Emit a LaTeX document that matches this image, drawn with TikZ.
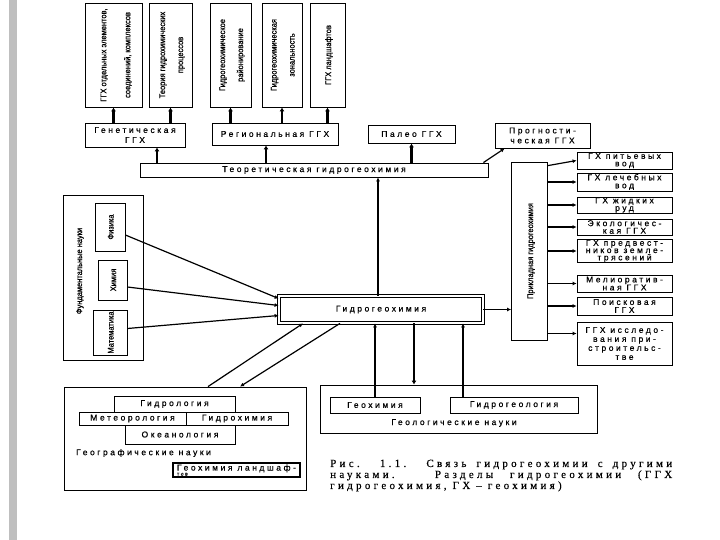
\documentclass[tikz,border=0pt]{standalone}
\usepackage{fontspec}
\setmainfont{Liberation Serif}
\newfontfamily\spfont{Liberation Sans}[LetterSpace=30, FakeBold=0.5]
\newfontfamily\nrfont{Liberation Sans}[FakeStretch=0.9, FakeBold=0.5]
\newfontfamily\capfont{Liberation Serif}[LetterSpace=30, FakeBold=0.3]
\usepackage{graphicx}
\usetikzlibrary{arrows.meta}
\newcommand{\vtxt}[1]{\rotatebox{90}{\begin{tabular}{@{}c@{}}#1\end{tabular}}}

\begin{document}
\begin{tikzpicture}[x=1pt, y=-1pt,
  wh/.style 2 args = {minimum width=#1, minimum height=#2},
  box/.style = {draw, line width=0.8pt, inner sep=0pt, align=center, font=\spfont\fontsize{8.5}{8}\selectfont},
  vbox/.style = {draw, line width=0.8pt, inner sep=0pt, font=\nrfont\fontsize{8.3}{18}\selectfont},
  lbl/.style = {inner sep=0pt, font=\spfont\fontsize{8.5}{8}\selectfont},
  arr/.style = {line width=1.2pt, -{Latex[length=4pt,width=4pt]}},
  fat/.style = {line width=2.2pt, -{Latex[length=4pt,width=5pt]}}]
  \fill[white] (0,0) rectangle (720,540);
  \useasboundingbox (0,0) rectangle (720,540);
  \fill[gray!50] (9,0) rectangle (17,540);

  % theoretical branches
  \node[vbox, wh={57pt}{104pt}, font=\nrfont\fontsize{8.3}{24}\selectfont] (a) at (113.5,55) {\vtxt{ГГХ отдельных элементов,\\соединений, комплексов}};
  \node[vbox, wh={43pt}{104pt}] (b) at (170.5,55) {\vtxt{Теория гидрохимических\\процессов}};
  \node[vbox, wh={41pt}{104pt}] (c) at (230.5,55) {\vtxt{Гидрогеохимическое\\районирование}};
  \node[vbox, wh={40pt}{104pt}] (d) at (282,55) {\vtxt{Гидрогеохимическая\\зональность}};
  \node[vbox, wh={35pt}{104pt}] (e) at (327.5,55) {\vtxt{ГГХ ландшафтов}};

  \node[box, wh={100pt}{24pt}, font=\spfont\fontsize{8.5}{10}\selectfont] (gen) at (135,135) {Генетическая\\ГГХ};
  \node[box, wh={126pt}{22pt}] (reg) at (275,134) {Региональная ГГХ};
  \node[box, wh={87pt}{18pt}] (paleo) at (411.5,134) {Палео ГГХ};
  \node[box, wh={95pt}{25pt}, font=\spfont\fontsize{8.5}{10}\selectfont] (prog) at (542.5,135.5) {Прогности-\\ческая ГГХ};
  \node[box, wh={348pt}{14pt}] (theo) at (314,170) {Теоретическая гидрогеохимия};

  % fundamental sciences
  \node[draw, line width=0.8pt, wh={80pt}{165pt}] (fund) at (103,277.5) {};
  \node[vbox, wh={30pt}{48pt}] (phys) at (110,227) {\vtxt{Физика}};
  \node[vbox, wh={29pt}{40pt}] (chem) at (112.5,280) {\vtxt{Химия}};
  \node[vbox, wh={34pt}{45pt}] (math) at (110,332.5) {\vtxt{Математика}};
  \node[inner sep=0pt, font=\nrfont\fontsize{8.3}{9}\selectfont] (fundlbl) at (80,271) {\rotatebox{90}{Фундаментальные науки}};

  % centre
  \node[box, wh={204pt}{27pt}, double, double distance=2pt] (hyd) at (381,309.5) {Гидрогеохимия};

  % applied branches
  \node[vbox, wh={36pt}{178pt}] (app) at (529.5,251) {\vtxt{Прикладная гидрогеохимия}};
  \node[box, wh={95pt}{17pt}, font=\spfont\fontsize{8.5}{7.5}\selectfont] (r1) at (624.5,160.5) {ГХ питьевых\\вод};
  \node[box, wh={95pt}{18pt}] (r2) at (624.5,182) {ГХ лечебных\\вод};
  \node[box, wh={95pt}{16pt}, font=\spfont\fontsize{8.5}{7.5}\selectfont] (r3) at (624.5,205) {ГХ жидких\\руд};
  \node[box, wh={95pt}{16pt}, font=\spfont\fontsize{8.5}{7.5}\selectfont] (r4) at (624.5,227) {Экологичес-\\кая ГГХ};
  \node[box, wh={95pt}{22pt}, font=\spfont\fontsize{8.5}{7.3}\selectfont] (r5) at (624.5,251) {ГХ предвест-\\ников земле-\\трясений};
  \node[box, wh={95pt}{17pt}] (r6) at (624.5,283.5) {Мелиоратив-\\ная ГГХ};
  \node[box, wh={95pt}{18pt}] (r7) at (624.5,306) {Поисковая\\ГГХ};
  \node[box, wh={95pt}{43pt}, font=\spfont\fontsize{8.5}{9}\selectfont] (r8) at (624.5,343.5) {ГГХ исследо-\\вания при-\\строительс-\\тве};

  % geographical sciences
  \node[draw, line width=0.8pt, wh={242pt}{103pt}] (geog) at (185,438.5) {};
  \node[box, wh={121pt}{16pt}] (hydrol) at (174.5,404) {Гидрология};
  \node[box, wh={107pt}{13pt}] (meteo) at (132.5,418.5) {Метеорология};
  \node[box, wh={102pt}{13pt}] (hchem) at (237,418.5) {Гидрохимия};
  \node[box, wh={110pt}{19pt}] (ocean) at (180,434.5) {Океанология};
  \node[lbl, anchor=west] (geoglbl) at (76,453) {Географические науки};
  \node[box, line width=1.2pt, wh={127pt}{14pt}, align=left] (land) at (236.5,470) {Геохимия ландшаф-\\[-3pt]{\fontsize{5}{5}\selectfont тов}};

  % geological sciences
  \node[draw, line width=0.8pt, wh={277pt}{48pt}] (geol) at (458.5,409) {};
  \node[box, wh={90pt}{16pt}] (geochem) at (375,405) {Геохимия};
  \node[box, wh={128pt}{16pt}] (hgeol) at (514,405) {Гидрогеология};
  \node[lbl] (geollbl) at (454,423) {Геологические науки};

  % caption
  \node[anchor=north west, text width=342pt, align=justify, inner sep=0pt, font=\capfont\fontsize{11}{9.5}\selectfont] (cap) at (330,459.5) {Рис. 1.1. Связь гидрогеохимии с другими\linebreak науками. Разделы гидрогеохимии (ГГХ\linebreak гидрогеохимия, ГХ – геохимия)};

  % links
  \draw[fat] (a.south |- gen.north) -- (a.south);
  \draw[fat] (b.south |- gen.north) -- (b.south);
  \draw[fat] (c.south |- reg.north) -- (c.south);
  \draw[fat] (d.south |- reg.north) -- (d.south);
  \draw[fat] (e.south |- reg.north) -- (e.south);
  \draw[fat] ([xshift=22pt]gen.south |- theo.north) -- ([xshift=22pt]gen.south);
  \draw[fat] ([xshift=-9pt]reg.south |- theo.north) -- ([xshift=-9pt]reg.south);
  \draw[fat] (paleo.south |- theo.north) -- (paleo.south);
  \draw[arr] ([xshift=-5pt]theo.north east) -- ([xshift=10pt]prog.south west);
  \draw[arr] ([xshift=-3pt]hyd.north) -- ([xshift=-3pt]hyd.north |- theo.south);

  \draw[arr] ([yshift=-8pt]phys.east) -- ([yshift=11pt]hyd.west);
  \draw[arr] ([yshift=-7pt]chem.east) -- ([yshift=4pt]hyd.west);
  \draw[arr] ([yshift=4pt]math.east) -- ([yshift=-6pt]hyd.west);
  \draw[arr] (hyd.east) -- (app.west |- hyd.east);

  \draw[arr] ([yshift=-4pt]app.north east) -- (r1.west);
  \foreach \r in {r2,r3,r4,r5,r6,r7}
    \draw[arr] (app.east |- \r.west) -- (\r.west);
  \draw[arr] ([yshift=10pt]r8.west -| app.east) -- ([yshift=10pt]r8.west);

  \draw[arr] ([xshift=23pt]geog.north) -- ([xshift=-78pt]hyd.south);
  \draw[arr] ([xshift=-41pt]hyd.south) -- ([xshift=55pt]geog.north);
  \draw[arr] (geochem.north) -- (geochem.north |- hyd.south);
  \draw[fat] ([xshift=33pt]hyd.south) -- ([xshift=33pt]hyd.south |- geol.north);
  \draw[arr] ([xshift=-51pt]hgeol.north) -- ([xshift=-51pt]hgeol.north |- hyd.south);
\end{tikzpicture}
\end{document}
